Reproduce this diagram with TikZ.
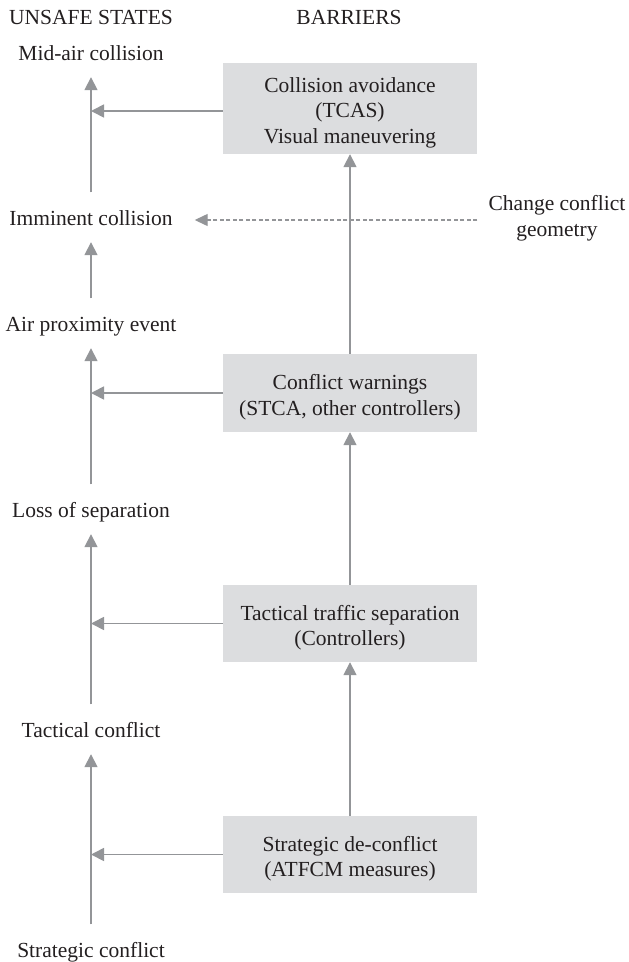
\documentclass[tikz,border=0pt]{standalone}
\usepackage{fontspec}
\setmainfont{Liberation Serif}
\usetikzlibrary{arrows.meta}
\definecolor{boxgray}{HTML}{DCDDDF}
\definecolor{linegray}{HTML}{939598}
\definecolor{inkgray}{HTML}{231F20}
\begin{document}
\begin{tikzpicture}[x=1pt, y=-1pt,
  every node/.style={font=\fontsize{21.5}{25.5}\selectfont, text=inkgray, inner sep=0pt},
  statelabel/.style={text height=14pt, text depth=4pt},
  barrierbox/.style={fill=boxgray, minimum width=254pt},
  boxtext/.style={align=center, yshift=-4pt},
  flow/.style={draw=linegray, line width=1.7pt, -{Triangle[length=13pt, width=13pt]}},
  upflow/.style={flow, shorten <=18.5pt, shorten >=13pt},
  geomflow/.style={draw=linegray, line width=1.3pt, dash pattern=on 4pt off 2.5pt,
    -{Triangle[length=13pt, width=12pt]}, shorten <=11pt, shorten >=22pt}]
\useasboundingbox (0,0) rectangle (629,962);

% column headings
\node (hstates)   at (91,17)  {UNSAFE STATES};
\node (hbarriers) at (349,17) {BARRIERS};

% chain of unsafe states
\node[statelabel] (midair)    at (91,55)  {Mid-air collision};
\node[statelabel] (imminent)  at (91,220) {Imminent collision};
\node[statelabel] (airprox)   at (91,326) {Air proximity event};
\node[statelabel] (losssep)   at (91,512) {Loss of separation};
\node[statelabel] (tactical)  at (91,732) {Tactical conflict};
\node[statelabel] (strategic) at (91,952) {Strategic conflict};

% barriers
\node[barrierbox, minimum height=91pt,
  label={[boxtext]center:Collision avoidance\\(TCAS)\\Visual maneuvering}] (avoid) at (350,108.5) {};
\node[barrierbox, minimum height=78pt,
  label={[boxtext]center:Conflict warnings\\(STCA, other controllers)}] (warn) at (350,393) {};
\node[barrierbox, minimum height=77pt,
  label={[boxtext]center:Tactical traffic separation\\(Controllers)}] (tsep) at (350,623.5) {};
\node[barrierbox, minimum height=77pt,
  label={[boxtext]center:Strategic de-conflict\\(ATFCM measures)}] (deconf) at (350,854.5) {};

\node[align=center] (geometry) at (557,218) {Change conflict\\geometry};

% escalation of the unsafe states
\draw[upflow] (strategic.north) -- (tactical.south);
\draw[upflow] (tactical.north)  -- (losssep.south);
\draw[upflow] (losssep.north)   -- (airprox.south);
\draw[upflow] (airprox.north)   -- (imminent.south);
\draw[upflow] (imminent.north)  -- (midair.south);

% barriers acting on the state chain
\draw[flow] ([yshift=-2.5pt]avoid.west) -- ([yshift=-2.5pt]avoid.west -| midair.center);
\draw[flow] (warn.west)   -- (warn.west -| midair.center);
\draw[flow] (tsep.west)   -- (tsep.west -| midair.center);
\draw[flow] (deconf.west) -- (deconf.west -| midair.center);

% barrier sequence
\draw[flow] (deconf.north) -- (tsep.south);
\draw[flow] (tsep.north)   -- (warn.south);
\draw[flow] (warn.north)   -- (avoid.south);

% geometry change
\draw[geomflow] (geometry.west |- imminent.east) -- (imminent.east);
\end{tikzpicture}
\end{document}
